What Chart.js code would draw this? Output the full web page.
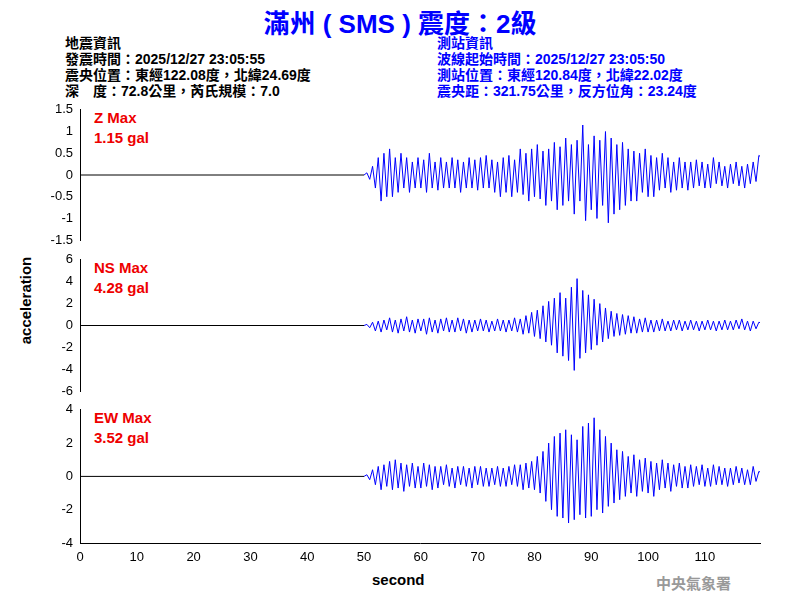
<!DOCTYPE html>
<html>
<head>
<meta charset="utf-8">
<script src="https://cdn.jsdelivr.net/npm/chart.js@4"></script>
<style>
  body { margin:0; width:800px; height:600px; background:#fff; position:relative; overflow:hidden;
         font-family:"Liberation Sans","Noto Sans CJK TC",sans-serif; }
  .abs { position:absolute; white-space:nowrap; }
  canvas { position:absolute; left:0; }
  .info { font-size:14px; font-weight:bold; line-height:16px; }
  .mx { color:#e00; font-size:15px; font-weight:bold; line-height:20px; }
</style>
</head>
<body>
<div class="abs" style="left:0;width:800px;top:3px;text-align:center;color:#00f;font-size:26px;font-weight:bold;">滿州 ( SMS ) 震度：2級</div>
<div class="abs info" style="left:65px;top:35px;color:#000;">地震資訊<br>發震時間：2025/12/27 23:05:55<br>震央位置：東經122.08度，北緯24.69度<br>深　度：72.8公里，芮氏規模：7.0</div>
<div class="abs info" style="left:437px;top:35px;color:#00f;">測站資訊<br>波線起始時間：2025/12/27 23:05:50<br>測站位置：東經120.84度，北緯22.02度<br>震央距：321.75公里，反方位角：23.24度</div>
<div class="abs mx" style="left:94px;top:108px;">Z Max<br>1.15 gal</div>
<div class="abs mx" style="left:94px;top:258px;">NS Max<br>4.28 gal</div>
<div class="abs mx" style="left:94px;top:408px;">EW Max<br>3.52 gal</div>
<div class="abs" style="left:-18px;top:292px;transform:rotate(-90deg);font-size:15px;font-weight:bold;">acceleration</div>
<div class="abs" style="left:372px;top:571px;font-size:15px;font-weight:bold;">second</div>
<div class="abs" style="left:656px;top:572px;font-size:15px;font-weight:bold;color:#999;font-family:'Noto Sans CJK TC';">中央氣象署</div>
<canvas id="cz" width="800" height="150" style="top:100px"></canvas>
<canvas id="cns" width="800" height="151" style="top:250px"></canvas>
<canvas id="cew" width="800" height="170" style="top:400px"></canvas>
<script>
// samples every 0.5 s from 50 s to 120 s
var startTime = 50;
var sampleStep = 0.5;
var quietEnd = 50;

var zVals = [
  0,0.05,-0.1,0.2,-0.3,0.4,-0.6,0.5,-0.5,0.6,
  -0.5,0.4,-0.4,0.5,-0.3,0.4,-0.4,0.3,-0.3,0.4,
  -0.3,0.35,-0.4,0.5,-0.3,0.3,-0.35,0.4,-0.3,0.3,
  -0.3,0.4,-0.3,0.35,-0.4,0.3,-0.3,0.4,-0.3,0.35,
  -0.35,0.4,-0.3,0.45,-0.3,0.35,-0.4,0.3,-0.5,0.4,
  -0.4,0.45,-0.5,0.35,-0.4,0.6,-0.45,0.5,-0.6,0.6,
  -0.5,0.7,-0.55,0.55,-0.7,0.6,-0.6,0.75,-0.8,0.65,
  -0.7,0.85,-0.6,0.7,-0.9,0.8,-0.6,1.15,-1.05,0.7,
  -0.8,0.9,-1.0,0.8,-0.7,1.0,-1.1,0.85,-0.9,0.7,
  -0.8,0.75,-0.7,0.6,-0.6,0.55,-0.6,0.5,-0.4,0.6,
  -0.5,0.45,-0.5,0.4,-0.35,0.5,-0.3,0.4,-0.4,0.3,
  -0.35,0.4,-0.3,0.3,-0.35,0.3,-0.3,0.35,-0.25,0.3,
  -0.3,0.25,-0.3,0.4,-0.2,0.3,-0.25,0.2,-0.3,0.25,
  -0.2,0.3,-0.25,0.2,-0.3,0.25,-0.2,0.3,-0.15,0.45,
  0.4];
var nsVals = [
  0,0.1,-0.2,0.3,-0.5,0.4,-0.6,0.5,-0.4,0.7,
  -0.6,0.5,-0.7,0.6,-0.5,0.8,-0.6,0.5,-0.7,0.6,
  -0.5,0.6,-0.8,0.7,-0.6,0.5,-0.7,0.6,-0.5,0.7,
  -0.6,0.5,-0.6,0.7,-0.5,0.6,-0.7,0.5,-0.6,0.5,
  -0.5,0.6,-0.5,0.5,-0.6,0.4,-0.5,0.6,-0.5,0.5,
  -0.6,0.5,-0.5,0.7,-0.6,0.6,-0.8,0.9,-0.7,1.2,
  -1.0,1.4,-1.2,1.8,-1.5,2.2,-1.8,2.5,-2.5,3.0,
  -2.8,2.5,-3.2,3.5,-4.1,4.28,-3.0,3.2,-2.5,2.8,
  -2.2,2.4,-1.8,2.0,-1.5,1.6,-1.2,1.3,-1.0,1.1,
  -0.9,1.0,-0.8,0.9,-0.7,0.8,-0.7,0.6,-0.6,0.7,
  -0.6,0.5,-0.6,0.5,-0.5,0.6,-0.5,0.4,-0.5,0.5,
  -0.4,0.5,-0.5,0.4,-0.4,0.5,-0.4,0.4,-0.5,0.4,
  -0.4,0.5,-0.4,0.4,-0.5,0.4,-0.4,0.5,-0.4,0.4,
  -0.4,0.5,-0.3,0.6,-0.4,0.4,-0.5,0.4,-0.3,0.3,
  0.2];
var ewVals = [
  0,0.1,-0.2,0.4,-0.5,0.6,-0.8,0.7,-0.6,0.9,
  -0.8,1.0,-0.7,0.8,-0.9,0.7,-0.6,0.8,-0.7,0.6,
  -0.7,0.8,-0.6,0.7,-0.8,0.6,-0.7,0.6,-0.5,0.7,
  -0.6,0.5,-0.7,0.6,-0.5,0.6,-0.6,0.5,-0.7,0.6,
  -0.5,0.6,-0.6,0.5,-0.6,0.5,-0.5,0.6,-0.6,0.5,
  -0.6,0.6,-0.5,0.7,-0.6,0.7,-0.8,0.8,-0.7,0.9,
  -0.8,1.2,-1.0,1.5,-1.5,2.0,-2.0,2.4,-2.4,2.6,
  -2.5,2.8,-2.8,2.5,-2.6,2.2,-2.3,3.0,-2.5,3.2,
  -2.4,3.52,-2.0,2.8,-2.2,2.4,-1.8,2.0,-1.6,1.6,
  -1.4,1.5,-1.2,1.2,-1.0,1.3,-1.2,1.0,-0.9,1.1,
  -1.0,0.9,-1.2,0.8,-0.8,1.0,-0.7,0.8,-0.9,0.7,
  -0.6,0.8,-0.7,0.6,-0.7,0.7,-0.6,0.6,-0.5,0.7,
  -0.6,0.5,-0.6,0.7,-0.5,0.6,-0.5,0.5,-0.6,0.5,
  -0.5,0.6,-0.4,0.5,-0.5,0.4,-0.5,0.6,-0.3,0.3,
  0.2];

var xTicks = [0,10,20,30,40,50,60,70,80,90,100,110];

function toPoints(vals){
  return vals.map((v,i) => ({x: startTime + i*sampleStep, y: v}));
}

function makeChart(id, vals, yMin, yMax, yStep, showX){
  var tickFont = {family:'Liberation Sans', size:13};
  new Chart(document.getElementById(id), {
    type: 'line',
    data: { datasets: [
      { data: [{x:0,y:0},{x:quietEnd,y:0}], borderColor:'#000', borderWidth:1, pointRadius:0 },
      { data: toPoints(vals), borderColor:'#00f', borderWidth:1, pointRadius:0 }
    ]},
    options: {
      responsive:false, animation:false,
      layout: { padding: {top:8, bottom: showX ? 0 : 8, right:40} },
      plugins: { legend:{display:false}, tooltip:{enabled:false} },
      scales: {
        x: { type:'linear', min:0, max:119.7, display: showX,
             afterBuildTicks: s => { s.ticks = xTicks.map(v => ({value:v})); },
             afterFit: s => { if (showX) s.height = 27; },
             grid:{display:false, drawTicks:true, tickLength:5, tickColor:'#000'},
             border:{color:'#000'},
             ticks:{color:'#000', font:tickFont, maxRotation:0, padding:2} },
        y: { min:yMin, max:yMax,
             afterFit: s => { s.width = 80; },
             grid:{display:false, drawTicks:true, tickLength:5, tickColor:'#000'},
             border:{color:'#000'},
             ticks:{stepSize:yStep, color:'#000', font:tickFont, padding:2,
                    callback: v => String(Math.round(v*10)/10)} }
      }
    }
  });
}

makeChart('cz', zVals, -1.5, 1.5, 0.5, false);
makeChart('cns', nsVals, -6, 6, 2, false);
makeChart('cew', ewVals, -4, 4, 2, true);
</script>
</body>
</html>
